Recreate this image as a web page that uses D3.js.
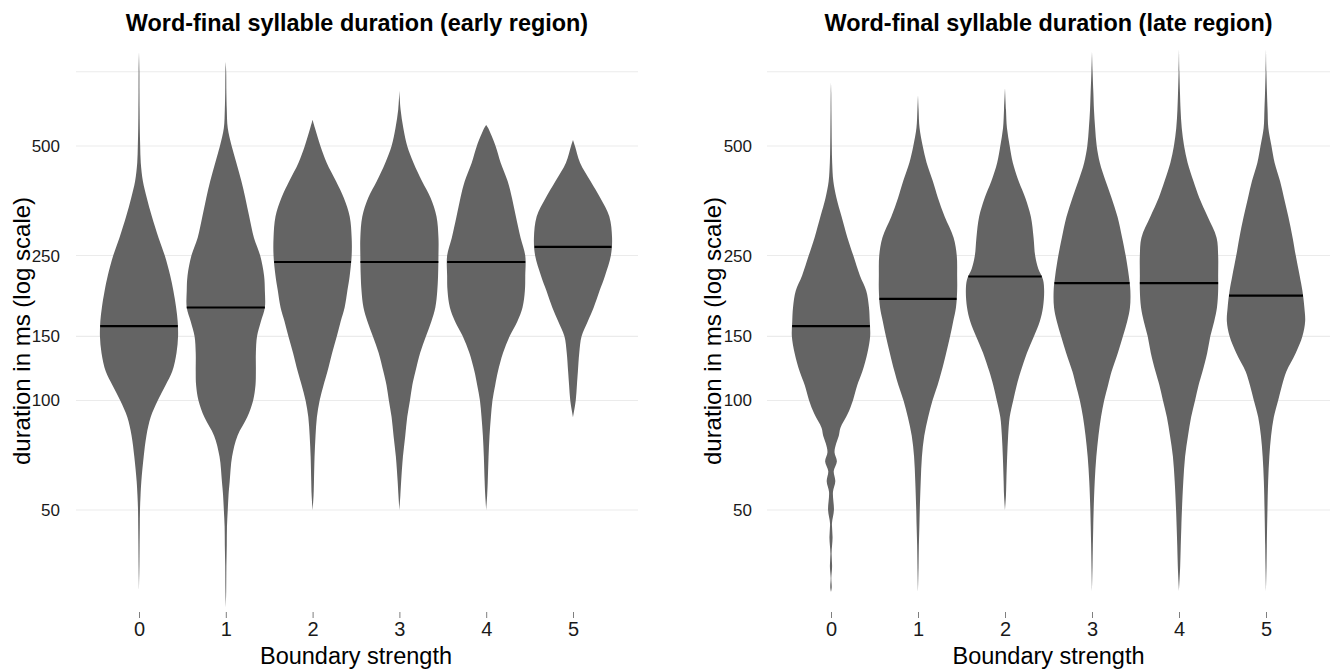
<!DOCTYPE html>
<html>
<head>
<meta charset="utf-8">
<script src="https://cdn.jsdelivr.net/npm/d3@7"></script>
<style>
  html, body { margin: 0; padding: 0; background: #ffffff; }
  svg { display: block; }
  text { font-family: "Liberation Sans", Arial, Helvetica, sans-serif; }
</style>
</head>
<body>
<svg id="chart" width="1330" height="672"></svg>
<script>
// ---------------- data ----------------
const categories = ["0", "1", "2", "3", "4", "5"];
const panelTitles = ["Word-final syllable duration (early region)", "Word-final syllable duration (late region)"];
const xTitle = "Boundary strength";
const yTitle = "duration in ms (log scale)";
const yTickValues = [50, 100, 150, 250, 500];
const yGridValues = [50, 100, 150, 250, 500, 800];

// medians (ms)
const earlyMedians = [160, 180, 240, 240, 240, 264];
const lateMedians = [160, 190, 219, 210, 210, 194];

// violin outlines: [duration in ms, relative half-width (0..1)]
const earlyShapes = [
  [[907,0],[800,0.01],[700,0.012],[630,0.015],[560,0.02],[500,0.03],[450,0.045],[400,0.1],[360,0.2],[320,0.33],[280,0.5],[250,0.66],[220,0.8],[200,0.88],[180,0.95],[165,0.99],[150,1.0],[135,0.96],[120,0.85],[110,0.68],[100,0.48],[90,0.3],[80,0.19],[70,0.12],[60,0.06],[55,0.04],[50,0.025],[45,0.02],[40,0.015],[35,0.01],[30,0]],
  [[852,0],[800,0.01],[700,0.015],[630,0.025],[560,0.05],[500,0.15],[450,0.27],[400,0.4],[360,0.5],[320,0.6],[280,0.72],[250,0.88],[220,0.98],[200,1.0],[180,1.0],[165,0.9],[150,0.8],[135,0.77],[120,0.77],[110,0.76],[100,0.7],[90,0.55],[80,0.3],[70,0.16],[60,0.1],[55,0.07],[50,0.05],[45,0.03],[40,0.025],[35,0.015],[30,0.01],[27,0]],
  [[590,0],[560,0.06],[500,0.2],[450,0.36],[400,0.6],[360,0.8],[320,0.95],[280,1.0],[250,1.0],[220,0.95],[200,0.89],[180,0.82],[165,0.72],[150,0.62],[135,0.5],[120,0.38],[110,0.28],[100,0.18],[90,0.11],[80,0.075],[70,0.05],[60,0.035],[55,0.025],[50,0]],
  [[709,0],[630,0.03],[560,0.1],[500,0.2],[450,0.36],[400,0.58],[360,0.8],[320,0.95],[280,1.0],[250,1.0],[220,0.99],[200,0.97],[180,0.92],[165,0.82],[150,0.68],[135,0.53],[120,0.41],[110,0.33],[100,0.27],[90,0.2],[80,0.15],[70,0.09],[60,0.045],[55,0.025],[50,0]],
  [[571,0],[560,0.05],[500,0.24],[450,0.37],[400,0.55],[360,0.66],[320,0.76],[280,0.88],[250,1.0],[220,1.0],[200,0.99],[180,0.93],[165,0.8],[150,0.6],[135,0.43],[120,0.3],[110,0.23],[100,0.16],[90,0.12],[80,0.085],[70,0.06],[60,0.04],[55,0.025],[50,0]],
  [[519,0],[500,0.05],[450,0.18],[400,0.45],[360,0.7],[320,0.93],[280,1.0],[250,0.97],[220,0.82],[200,0.68],[180,0.53],[165,0.38],[150,0.22],[135,0.16],[120,0.125],[110,0.1],[100,0.07],[90,0]]
];
const lateShapes = [
  [[750,0],[700,0.006],[630,0.01],[560,0.015],[500,0.02],[450,0.03],[400,0.06],[360,0.14],[320,0.27],[280,0.42],[250,0.57],[220,0.74],[200,0.9],[180,0.97],[165,0.99],[150,1.0],[135,0.93],[120,0.8],[110,0.67],[100,0.56],[92,0.43],[84,0.24],[80,0.2],[76,0.13],[72,0.09],[68,0.15],[64,0.07],[60,0.11],[56,0.05],[50,0.075],[46,0.025],[42,0.04],[38,0.015],[35,0.028],[32.5,0.008],[30.6,0.018],[29.8,0]],
  [[691,0],[630,0.015],[560,0.04],[500,0.12],[450,0.22],[400,0.38],[360,0.51],[320,0.68],[280,0.91],[250,0.99],[220,1.0],[200,1.0],[180,0.97],[165,0.9],[150,0.82],[135,0.72],[120,0.6],[110,0.5],[100,0.37],[90,0.26],[80,0.16],[70,0.1],[60,0.07],[50,0.045],[45,0.035],[40,0.022],[35,0.014],[30,0]],
  [[722,0],[630,0.025],[560,0.05],[500,0.12],[450,0.2],[400,0.35],[360,0.52],[320,0.66],[280,0.73],[250,0.77],[230,0.85],[215,0.97],[200,1.0],[180,0.97],[165,0.89],[150,0.74],[135,0.56],[120,0.4],[110,0.3],[100,0.21],[90,0.12],[80,0.08],[70,0.055],[60,0.035],[55,0.025],[50,0]],
  [[907,0],[800,0.015],[700,0.035],[630,0.05],[560,0.08],[500,0.12],[450,0.2],[400,0.35],[360,0.5],[320,0.65],[280,0.77],[250,0.86],[220,0.94],[200,0.98],[180,0.97],[165,0.9],[150,0.79],[135,0.66],[120,0.5],[110,0.41],[100,0.31],[90,0.23],[80,0.165],[70,0.11],[60,0.07],[50,0.042],[45,0.032],[40,0.022],[35,0.013],[30,0]],
  [[920,0],[800,0.01],[700,0.025],[630,0.04],[560,0.07],[500,0.13],[450,0.22],[400,0.37],[360,0.52],[320,0.73],[280,0.96],[250,1.0],[220,1.0],[200,1.0],[180,0.97],[165,0.9],[150,0.8],[135,0.72],[120,0.6],[110,0.5],[100,0.41],[90,0.31],[80,0.23],[70,0.155],[60,0.11],[50,0.075],[45,0.06],[40,0.045],[35,0.03],[30,0]],
  [[920,0],[800,0.01],[700,0.025],[630,0.04],[560,0.06],[500,0.14],[450,0.22],[400,0.36],[360,0.46],[320,0.57],[280,0.68],[250,0.76],[220,0.86],[200,0.93],[180,0.98],[165,1.0],[150,0.93],[135,0.76],[120,0.52],[110,0.41],[100,0.31],[90,0.2],[80,0.13],[70,0.085],[60,0.055],[50,0.037],[40,0.021],[35,0.013],[30,0]]
];

// ---------------- layout ----------------
const W = 1330, H = 672;
const panels = [
  { title: panelTitles[0], shapes: earlyShapes, medians: earlyMedians,
    gridL: 76, gridR: 638, x0: 139, x1: 573, yTitleX: 30, tickLabelR: 60 },
  { title: panelTitles[1], shapes: lateShapes, medians: lateMedians,
    gridL: 767, gridR: 1330, x0: 831, x1: 1266, yTitleX: 721, tickLabelR: 752 }
];

const y = d3.scaleLog().domain([26, 1000]).range([613.4, 36.4]);
const fillColor = "#646464";

const svg = d3.select("#chart");
svg.append("rect").attr("width", W).attr("height", H).attr("fill", "#ffffff");

panels.forEach(p => {
  const g = svg.append("g");
  const x = d3.scalePoint().domain(categories).range([p.x0, p.x1]);
  const step = x.step();
  const halfMax = step * 0.9 / 2;

  // gridlines
  g.append("g").selectAll("line").data(yGridValues).join("line")
    .attr("x1", p.gridL).attr("x2", p.gridR)
    .attr("y1", d => y(d)).attr("y2", d => y(d))
    .attr("stroke", "#ebebeb").attr("stroke-width", 1.1);

  // violins
  const area = d3.area()
    .y(d => y(d[0]))
    .curve(d3.curveCatmullRom.alpha(0.5));

  categories.forEach((c, i) => {
    const cx = x(c);
    const shape = p.shapes[i];
    g.append("path")
      .datum(shape)
      .attr("d", area.x0(d => cx - d[1] * halfMax).x1(d => cx + d[1] * halfMax))
      .attr("fill", fillColor)
      .attr("stroke", "none");

    // median line: interpolate width at median value (log space)
    const m = p.medians[i];
    let w = 0;
    for (let k = 0; k < shape.length - 1; k++) {
      const a = shape[k], b = shape[k + 1];
      if (m <= a[0] && m >= b[0]) {
        const t = (Math.log(a[0]) - Math.log(m)) / (Math.log(a[0]) - Math.log(b[0]));
        w = a[1] + t * (b[1] - a[1]);
        break;
      }
    }
    g.append("line")
      .attr("x1", cx - w * halfMax).attr("x2", cx + w * halfMax)
      .attr("y1", y(m)).attr("y2", y(m))
      .attr("stroke", "#000000").attr("stroke-width", 2.2);
  });

  // x axis (ticks + labels)
  const xAxis = d3.axisBottom(x).tickSize(6).tickPadding(4);
  const xa = g.append("g").attr("transform", "translate(0,612)").call(xAxis);
  xa.select(".domain").remove();
  xa.selectAll(".tick line").attr("stroke", "#7f7f7f").attr("stroke-width", 1);
  xa.selectAll(".tick text").attr("font-size", 20).attr("fill", "#1a1a1a")
    .attr("font-family", "Liberation Sans, Arial, sans-serif");

  // y axis labels
  const yAxis = d3.axisLeft(y).tickValues(yTickValues).tickFormat(d3.format("d")).tickSize(0).tickPadding(0);
  const ya = g.append("g").attr("transform", `translate(${p.tickLabelR},0)`).call(yAxis);
  ya.select(".domain").remove();
  ya.selectAll(".tick text").attr("font-size", 17).attr("fill", "#1a1a1a")
    .attr("font-family", "Liberation Sans, Arial, sans-serif");

  // titles
  g.append("text")
    .attr("x", (p.gridL + p.gridR) / 2).attr("y", 31)
    .attr("text-anchor", "middle").attr("font-size", 23.4).attr("font-weight", "bold")
    .attr("fill", "#000").text(p.title);

  g.append("text")
    .attr("x", (p.x0 + p.x1) / 2).attr("y", 664)
    .attr("text-anchor", "middle").attr("font-size", 23.5)
    .attr("fill", "#000").text(xTitle);

  g.append("text")
    .attr("transform", `translate(${p.yTitleX},${331}) rotate(-90)`)
    .attr("text-anchor", "middle").attr("font-size", 24)
    .attr("fill", "#000").text(yTitle);
});
</script>
</body>
</html>
